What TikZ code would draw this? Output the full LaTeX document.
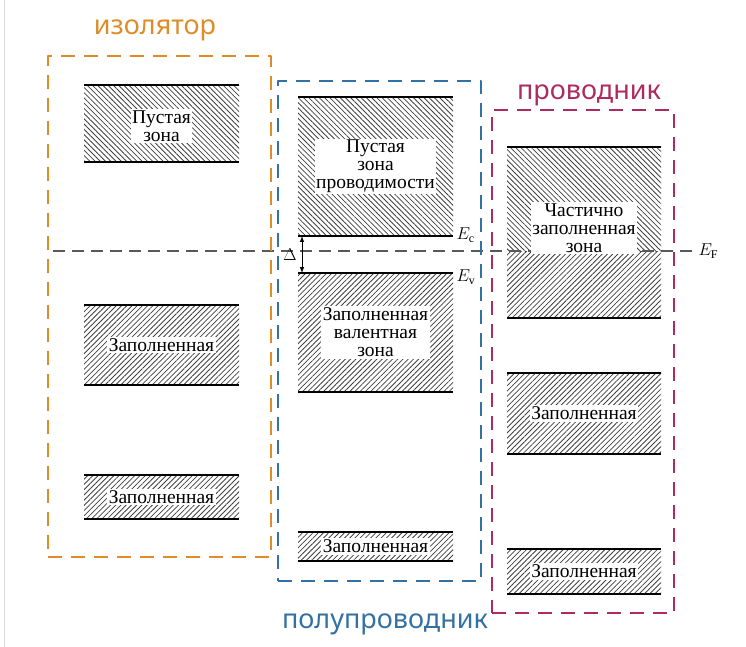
\documentclass[tikz,border=0pt]{standalone}
\usepackage{fontspec}
\setmainfont{Liberation Serif}
\newfontfamily\handfont{Noto Sans}
\usetikzlibrary{patterns.meta}

\begin{document}
\begin{tikzpicture}[>=latex,line join=bevel,
  emptyband/.style={pattern={Lines[angle=-45,distance=3.7bp,line width=0.8bp]},pattern color=hatchcol,inner sep=0pt,outer sep=0pt},
  fullband/.style={pattern={Lines[angle=45,distance=3.7bp,line width=0.8bp]},pattern color=hatchcol,inner sep=0pt,outer sep=0pt},
  bandedge/.style={line width=2.5bp,black},
  bandtext/.style={fill=white,align=center,inner sep=1.5bp,font=\fontsize{19.5bp}{18bp}\selectfont},
  groupbox/.style={draw,line width=2bp,dash pattern=on 14bp off 9bp,inner sep=0pt},
  grouplabel/.style={font=\handfont\fontsize{27bp}{27bp}\selectfont,anchor=base},
  fermi/.style={draw=fermicol,line width=1.5bp,dash pattern=on 12bp off 7bp},
  levellabel/.style={font=\fontsize{17bp}{17bp}\selectfont,inner sep=1bp},
]
  \pgfsetlinewidth{1bp}
  \definecolor{hatchcol}{rgb}{0.25,0.25,0.25}
  \definecolor{fermicol}{rgb}{0.35,0.35,0.35}
  \definecolor{inscol}{rgb}{0.87,0.55,0.16}
  \definecolor{semicol}{rgb}{0.20,0.44,0.64}
  \definecolor{condcol}{rgb}{0.68,0.17,0.37}
  \useasboundingbox (0bp,0bp) rectangle (746bp,647bp);
  \draw [black!15,line width=1bp] (4bp,0bp) -- (4bp,647bp);
%%
  % Node: insulator bands
  \node [emptyband,minimum width=155bp,minimum height=77bp] (I1) at (161.5bp,523.5bp) {};
  \node [fullband,minimum width=155bp,minimum height=80bp] (I2) at (161.5bp,302.0bp) {};
  \node [fullband,minimum width=155bp,minimum height=44bp] (I3) at (161.5bp,150.0bp) {};
  % Node: semiconductor bands
  \node [emptyband,minimum width=155bp,minimum height=139bp] (S1) at (375.5bp,480.5bp) {};
  \node [fullband,minimum width=155bp,minimum height=119bp] (S2) at (375.5bp,314.5bp) {};
  \node [fullband,minimum width=155bp,minimum height=29bp] (S3) at (375.5bp,100.5bp) {};
  % Node: conductor bands
  \node [emptyband,minimum width=154bp,minimum height=105bp] (C1u) at (584.0bp,447.5bp) {};
  \node [fullband,minimum width=154bp,minimum height=66bp] (C1l) at (584.0bp,362.0bp) {};
  \node [fullband,minimum width=154bp,minimum height=81bp] (C2) at (584.0bp,233.5bp) {};
  \node [fullband,minimum width=154bp,minimum height=45bp] (C3) at (584.0bp,75.5bp) {};
%
  % Edge: band borders
  \draw [bandedge] (I1.north west) -- (I1.north east) (I1.south west) -- (I1.south east);
  \draw [bandedge] (I2.north west) -- (I2.north east) (I2.south west) -- (I2.south east);
  \draw [bandedge] (I3.north west) -- (I3.north east) (I3.south west) -- (I3.south east);
  \draw [bandedge] (S1.north west) -- (S1.north east) (S1.south west) -- (S1.south east);
  \draw [bandedge] (S2.north west) -- (S2.north east) (S2.south west) -- (S2.south east);
  \draw [bandedge] (S3.north west) -- (S3.north east) (S3.south west) -- (S3.south east);
  \draw [bandedge] (C1u.north west) -- (C1u.north east) (C1l.south west) -- (C1l.south east);
  \draw [bandedge] (C2.north west) -- (C2.north east) (C2.south west) -- (C2.south east);
  \draw [bandedge] (C3.north west) -- (C3.north east) (C3.south west) -- (C3.south east);
%
  % Edge: Fermi level
  \coordinate (F0) at (53bp,396bp);
  \node [levellabel,anchor=west] (EF) at (697bp,396bp) {$E_{\mathrm{F}}$};
  \draw [fermi] (F0) -- (EF.west);
%
  % Node: band texts
  \node [bandtext] (I1t) at (161.5bp,521bp) {Пустая\\зона};
  \node [bandtext] (I2t) at (I2) {Заполненная};
  \node [bandtext] (I3t) at (I3) {Заполненная};
  \node [bandtext] (S1t) at (S1) {Пустая\\зона\\проводимости};
  \node [bandtext] (S2t) at (S2) {Заполненная\\валентная\\зона};
  \node [bandtext] (S3t) at (S3) {Заполненная};
  \node [bandtext] (C1t) at (584.0bp,419.0bp) {Частично\\заполненная\\зона};
  \node [bandtext] (C2t) at (C2) {Заполненная};
  \node [bandtext] (C3t) at (C3) {Заполненная};
%
  % Node: gap levels
  \node [levellabel,anchor=west] (Ec) at (455bp,412bp) {$E_{\mathrm{c}}$};
  \node [levellabel,anchor=west] (Ev) at (455bp,370bp) {$E_{\mathrm{v}}$};
  \coordinate (gaptop) at (302bp,411bp);
  \coordinate (gapbot) at (302bp,374bp);
  \node [levellabel] (Delta) at (290bp,392bp) {$\Delta$};
  % Edge: gaptop <-> gapbot
  \draw [<->,line width=1bp] (gaptop) -- (gapbot);
%
  % Node: groups
\begin{scope}
  \node [groupbox,draw=inscol,minimum width=223bp,minimum height=501bp] (ins) at (159.5bp,340.5bp) {};
  \node [grouplabel,text=inscol] (insl) at (155bp,612bp) {изолятор};
\end{scope}
\begin{scope}
  \node [groupbox,draw=semicol,minimum width=203bp,minimum height=500bp] (semi) at (379.5bp,316.0bp) {};
  \node [grouplabel,text=semicol] (semil) at (385bp,19bp) {полупроводник};
\end{scope}
\begin{scope}
  \node [groupbox,draw=condcol,minimum width=182bp,minimum height=503bp] (cond) at (583.0bp,285.5bp) {};
  \node [grouplabel,text=condcol] (condl) at (589bp,547bp) {проводник};
\end{scope}
%
\end{tikzpicture}
\end{document}
